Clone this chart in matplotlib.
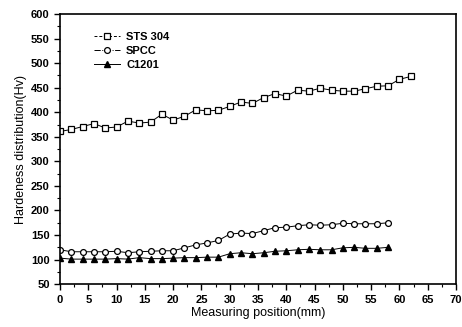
import matplotlib
matplotlib.use("Agg")
import matplotlib.pyplot as plt
from matplotlib.lines import Line2D
from matplotlib.ticker import MultipleLocator

# measuring positions (mm)
pos_sts = list(range(0, 64, 2))
pos_spcc = list(range(0, 60, 2))
pos_c1201 = list(range(0, 60, 2))

# hardness (Hv)
sts304 = [361, 365, 371, 377, 368, 370, 382, 378, 380, 396, 384, 392, 405, 403,
          404, 412, 421, 418, 430, 438, 433, 445, 443, 449, 445, 443, 443, 448,
          453, 454, 467, 473]
spcc = [120, 116, 116, 116, 116, 117, 114, 116, 117, 118, 118, 124, 130, 134,
        139, 152, 154, 153, 159, 165, 166, 169, 171, 170, 171, 174, 173, 173,
        173, 175]
c1201 = [103, 101, 101, 101, 101, 102, 101, 104, 102, 102, 103, 104, 104, 105,
         105, 112, 114, 112, 114, 117, 118, 120, 121, 120, 120, 124, 125, 123,
         123, 125]

plt.rcParams["font.family"] = ["Liberation Sans", "DejaVu Sans"]

fig = plt.figure(figsize=(4.62, 3.27), dpi=100)
ax = fig.add_axes([0.13, 0.131, 0.857, 0.826])

sq = dict(marker="s", ms=4.2, mfc="white", mec="black", mew=0.9)
ci = dict(marker="o", ms=4.2, mfc="white", mec="black", mew=0.9)
tr = dict(marker="^", ms=4.8, mfc="black", mec="black")

ax.plot(pos_sts, sts304, color="black", lw=0.7, **sq)
ax.plot(pos_spcc, spcc, color="black", lw=0.7, **ci)
ax.plot(pos_c1201, c1201, color="black", lw=0.7, **tr)

ax.set_xlim(0, 70)
ax.set_ylim(50, 600)
ax.xaxis.set_major_locator(MultipleLocator(5))
ax.xaxis.set_minor_locator(MultipleLocator(2.5))
ax.yaxis.set_major_locator(MultipleLocator(50))
ax.yaxis.set_minor_locator(MultipleLocator(25))
ax.tick_params(which="major", direction="out", length=4, width=1,
               labelsize=8)
ax.tick_params(which="minor", direction="out", length=2, width=0.8)
for lbl in ax.get_xticklabels() + ax.get_yticklabels():
    lbl.set_fontweight("bold")
for s in ax.spines.values():
    s.set_linewidth(1.2)

ax.set_xlabel("Measuring position(mm)", fontsize=9, labelpad=2)
ax.set_ylabel("Hardeness distribution(Hv)", fontsize=9, labelpad=3)

# legend keys use their own dash styles
handles = [
    Line2D([], [], color="black", lw=0.7, ls=(0, (3, 2)), **sq),
    Line2D([], [], color="black", lw=0.7, ls="-.", **ci),
    Line2D([], [], color="black", lw=0.7, ls="-", **tr),
]
ax.legend(handles, ["STS 304", "SPCC", "C1201"], loc="upper left",
          bbox_to_anchor=(0.06, 0.97), frameon=False,
          prop={"weight": "bold", "size": 8}, handlelength=2.4,
          labelspacing=0.35, handletextpad=0.5)

fig.savefig("out.png", dpi=100)
